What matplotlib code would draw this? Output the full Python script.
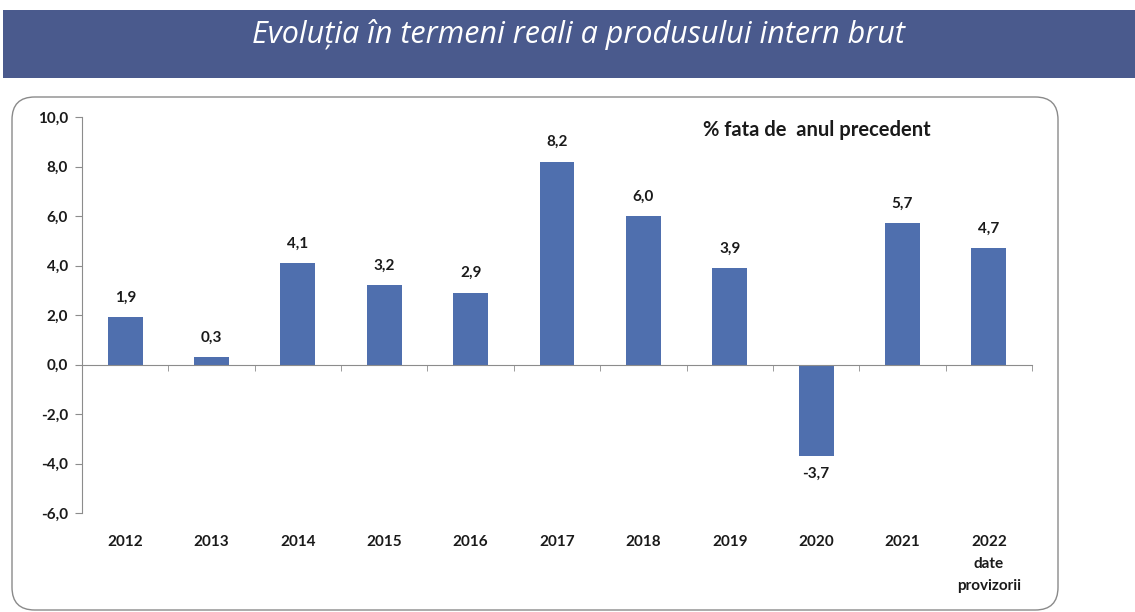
import numpy as np
import matplotlib.pyplot as plt
from matplotlib.patches import FancyBboxPatch, Rectangle

years = ["2012", "2013", "2014", "2015", "2016", "2017", "2018", "2019", "2020", "2021", "2022\ndate\nprovizorii"]
growth = [1.9, 0.3, 4.1, 3.2, 2.9, 8.2, 6.0, 3.9, -3.7, 5.7, 4.7]
yticks = [-6, -4, -2, 0, 2, 4, 6, 8, 10]

bar_color = "#4f6fae"
axis_color = "#8c8c8c"
text_color = "#1a1a1a"
plt.rcParams['font.family'] = ['Lato', 'DejaVu Sans']

fig = plt.figure(figsize=(11.35, 6.12), dpi=100)

# title banner
fig.patches.append(Rectangle((3 / 1135, 1 - 78 / 612), 1, 68 / 612, transform=fig.transFigure,
                             facecolor="#4a5a8d", edgecolor="none", zorder=-2))
fig.text(578 / 1135, 1 - 34 / 612, "Evoluția în termeni reali a produsului intern brut",
         family=['Open Sans', 'DejaVu Sans'], style='italic', color='white', fontsize=22,
         ha='center', va='center')

# rounded frame round the chart
fig.patches.append(FancyBboxPatch((12 / 1135, 2 / 612), 1046 / 1135, 513 / 612,
                                  boxstyle="round,pad=0,rounding_size=0.02",
                                  transform=fig.transFigure, facecolor='white',
                                  edgecolor='#8a8a8a', linewidth=1.0, zorder=-2,
                                  mutation_aspect=1135 / 612))

ax = fig.add_axes([82 / 1135, 1 - 513 / 612, 950 / 1135, 396 / 612])
ax.patch.set_alpha(0)

x = np.arange(len(years))
ax.bar(x, growth, width=0.405, color=bar_color, zorder=2)

for xi, v in zip(x, growth):
    lab = f"{v:.1f}".replace(".", ",")
    if v >= 0:
        ax.annotate(lab, (xi, v), xytext=(0, 9), textcoords='offset points',
                    ha='center', va='bottom', fontsize=11, fontweight='bold', color=text_color)
    else:
        ax.annotate(lab, (xi, v), xytext=(0, -8), textcoords='offset points',
                    ha='center', va='top', fontsize=11, fontweight='bold', color=text_color)

ax.set_xlim(-0.5, len(years) - 0.5)
ax.set_ylim(-6, 10)
ax.set_yticks(yticks)
ax.set_yticklabels([f"{t:.1f}".replace(".", ",") for t in yticks])

for s in ['top', 'right']:
    ax.spines[s].set_visible(False)
ax.spines['left'].set_color(axis_color)
ax.spines['bottom'].set_color(axis_color)
ax.spines['bottom'].set_position(('data', 0))

ax.set_xticks(x)
ax.set_xticklabels(years, linespacing=1.7)
ax.set_xticks(np.arange(len(years) + 1) - 0.5, minor=True)
ax.tick_params(axis='x', which='major', length=0, pad=123, labelsize=11, labelcolor=text_color)
ax.tick_params(axis='x', which='minor', length=4, direction='out', color=axis_color)
ax.tick_params(axis='y', length=5, color=axis_color, labelsize=11, labelcolor=text_color, pad=5)
for lbl in ax.get_xticklabels() + ax.get_yticklabels():
    lbl.set_fontweight('bold')

fig.text(703 / 1135, 1 - 130 / 612, "% fata de  anul precedent", fontsize=14.5,
         fontweight='bold', color=text_color, ha='left', va='center')

fig.savefig("out.png", dpi=100)
